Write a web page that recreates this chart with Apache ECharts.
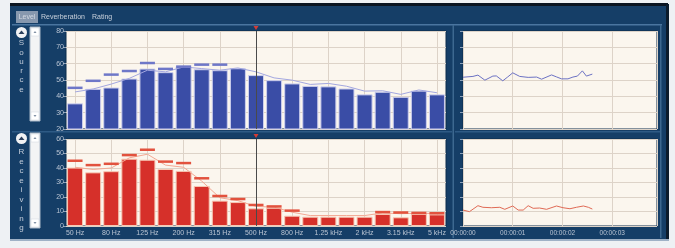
<!DOCTYPE html>
<html>
<head>
<meta charset="utf-8">
<script src="https://cdn.jsdelivr.net/npm/echarts@6/dist/echarts.min.js"></script>
<style>
  html, body { margin: 0; padding: 0; background: #eef1f4; }
  #levelChart { width: 675px; height: 248px; }
</style>
</head>
<body>
<div id="levelChart"></div>
<script>
  // 1/3 octave bands
  var bands = ['50 Hz', '63 Hz', '80 Hz', '100 Hz', '125 Hz', '160 Hz', '200 Hz', '250 Hz', '315 Hz', '400 Hz',
    '500 Hz', '630 Hz', '800 Hz', '1 kHz', '1.25 kHz', '1.6 kHz', '2 kHz', '2.5 kHz', '3.15 kHz', '4 kHz', '5 kHz'];

  // source room (dB)
  var sourceLevel = [35.7, 44.6, 45.4, 50.9, 57, 54.8, 58.4, 56.6, 56, 57.2, 53, 49.9, 47.9, 46.4, 46.1, 44.8, 41.2, 42.8, 39.7, 43.5, 41.2];
  var sourceMax = [45.2, 49.5, 53.3, 55.5, 60.4, 56.8, 58.2, 59.4, 59.4, null, null, null, null, null, null, null, null, null, null, null, null];
  var sourceAvg = [42.7, 44.5, 47.5, 51, 56, 55, 58, 57, 56, 57.4, 55, 51.3, 49.9, 47.3, 47.9, 46.2, 43.2, 43.4, 41.2, 43.9, 42.2];

  // receiving room (dB)
  var recvLevel = [40.3, 37, 37.8, 46.4, 45.7, 39.3, 38, 27.6, 17.5, 16.5, 12.2, 12.6, 7.1, 6.4, 6.4, 6.4, 6.4, 8.3, 6, 8.3, 8];
  var recvMax = [45, 42, 42.9, 48.9, 52.6, 44.4, 43.4, 32.9, 20.7, 18.6, 14.5, 13.5, 10.6, null, null, null, null, 9.6, 9.3, 9, 8.8];
  var recvAvg = [40.5, 39, 40, 47, 49.5, 42, 40.5, 31, 19.5, 17.5, 13.5, 13, 9.5, 7.2, 7.2, 7.2, 7.2, 9, 8.5, 8.8, 8.6];

  // level over time (s, dB)
  var sourceTimeSec = [0, 0.2, 0.3, 0.44, 0.6, 0.67, 0.8, 0.9, 1.0, 1.14, 1.31, 1.48, 1.58, 1.78, 1.88, 1.98, 2.11, 2.21, 2.3, 2.4, 2.48, 2.6];
  var sourceTime = [51.7, 52.2, 53, 49.9, 52.4, 52.5, 49.5, 51.9, 54.4, 52.2, 51.6, 51.8, 50.5, 53.1, 51.9, 50.7, 50.7, 51.8, 52.4, 55.6, 52.4, 53.6];
  var recvTimeSec = [0, 0.13, 0.3, 0.4, 0.57, 0.74, 0.84, 1.0, 1.11, 1.21, 1.31, 1.41, 1.54, 1.68, 1.88, 2.01, 2.15, 2.28, 2.42, 2.52, 2.6];
  var recvTime = [11, 9.9, 14, 12.9, 12.6, 12.9, 11.5, 13.8, 11, 11, 14, 12.2, 12.4, 11.5, 13.8, 12.6, 11.9, 12.9, 13.8, 12.9, 11.7];

  var timeTicks = ['00:00:00', '00:00:01', '00:00:02', '00:00:03'];
  var cursorBand = '500 Hz';

  var chart = echarts.init(document.getElementById('levelChart'));

  var labelColor = '#b9c4d3';
  var gridLine = '#ddd3c8';
  var font = 'Liberation Sans';

  function pairs(xs, ys) {
    return xs.map(function (x, i) { return [x, ys[i]]; });
  }

  function bandAxis(idx, showLabels) {
    return {
      type: 'category', gridIndex: idx, data: bands,
      axisLine: { show: false },
      axisTick: { show: false },
      axisLabel: { show: showLabels, interval: 1, color: labelColor, fontSize: 7, fontFamily: font, margin: 4 },
      splitLine: { show: true, interval: 1, alignWithLabel: true, lineStyle: { color: gridLine, width: 1 } }
    };
  }

  function levelAxis(idx, min, max, showLabels) {
    return {
      type: 'value', gridIndex: idx, min: min, max: max, interval: 10,
      axisLine: { show: false },
      axisTick: { show: true, length: 3, lineStyle: { color: '#8ea2ba' } },
      axisLabel: { show: showLabels, color: labelColor, fontSize: 7, fontFamily: font, margin: 2 },
      splitLine: { lineStyle: { color: gridLine, width: 1 } }
    };
  }

  function timeAxis(idx, showLabels) {
    return {
      type: 'value', gridIndex: idx, min: 0, max: 3.9, interval: 1,
      axisLine: { show: false },
      axisTick: { show: false },
      axisLabel: {
        show: showLabels, color: labelColor, fontSize: 6.5, fontFamily: font, margin: 4, showMaxLabel: false,
        formatter: function (v) { return timeTicks[v] || ''; }
      },
      splitLine: { lineStyle: { color: gridLine, width: 1 } }
    };
  }

  var gridStyle = { show: true, backgroundColor: '#fbf6ee', borderColor: '#0c2c4c', borderWidth: 1 };

  var cursorLine = {
    silent: true, symbol: ['none', 'none'], label: { show: false },
    lineStyle: { color: '#4a4a4a', width: 1, type: 'solid' },
    data: [{ xAxis: cursorBand }]
  };

  function cursorMark(top) {
    return {
      silent: true, symbol: 'triangle', symbolSize: [5, 4], symbolRotate: 180, symbolOffset: [0, -3],
      label: { show: false }, itemStyle: { color: '#d23b35' },
      data: [{ coord: [cursorBand, top] }]
    };
  }

  var sideText = { fill: '#c3ccd9', fontSize: 8, fontFamily: font, align: 'center', verticalAlign: 'middle' };
  var graphics = [
    { type: 'rect', z: -100, shape: { x: 10, y: 4, width: 658, height: 236 }, style: { fill: '#153e67' } },
    { type: 'rect', z: -99, shape: { x: 10, y: 3, width: 658, height: 3 }, style: { fill: '#0a1421' } },
    { type: 'rect', z: -99, shape: { x: 666, y: 4, width: 3, height: 236 }, style: { fill: '#0b1b2c' } },
    { type: 'rect', z: -99, shape: { x: 10, y: 239, width: 659, height: 2 }, style: { fill: '#9fb1c6' } },
    { type: 'rect', z: -99, shape: { x: 12, y: 24, width: 650, height: 1.5 }, style: { fill: '#4a759f' } },
    { type: 'rect', z: -99, shape: { x: 12, y: 131, width: 440, height: 1.5 }, style: { fill: '#2e5a85' } },
    { type: 'rect', z: -99, shape: { x: 455, y: 131, width: 205, height: 1.5 }, style: { fill: '#2e5a85' } },
    { type: 'rect', z: -99, shape: { x: 452.5, y: 25, width: 1.5, height: 213 }, style: { fill: '#3d6890' } },
    { type: 'rect', z: -99, shape: { x: 660, y: 25, width: 1.5, height: 213 }, style: { fill: '#3d6890' } },
    { type: 'rect', shape: { x: 16, y: 11, width: 22, height: 12 }, style: { fill: '#8798ae' } },
    { type: 'text', x: 27, y: 17, style: { text: 'Level', fill: '#d3d9e2', fontSize: 7, fontFamily: font, align: 'center', verticalAlign: 'middle' } },
    { type: 'text', x: 41, y: 17, style: { text: 'Reverberation', fill: '#c9d1dc', fontSize: 7, fontFamily: font, verticalAlign: 'middle' } },
    { type: 'text', x: 92, y: 17, style: { text: 'Rating', fill: '#c9d1dc', fontSize: 7, fontFamily: font, verticalAlign: 'middle' } }
  ];

  function sidePanel(top, bottom, word, letterTop, step) {
    graphics.push(
      { type: 'circle', shape: { cx: 21.5, cy: top + 5.5, r: 5.5 }, style: { fill: '#f1f2f4' } },
      { type: 'polygon', shape: { points: [[18.5, top + 7], [24.5, top + 7], [21.5, top + 3.5]] }, style: { fill: '#2b3f5c' } },
      { type: 'rect', shape: { x: 30, y: top, width: 10, height: bottom - top }, style: { fill: '#f3f4f5', stroke: '#a9b7c7', lineWidth: 1 } },
      { type: 'rect', shape: { x: 31, y: top + 1, width: 8, height: 8 }, style: { fill: '#ffffff', stroke: '#cfd5dc', lineWidth: 0.5 } },
      { type: 'rect', shape: { x: 31, y: bottom - 9, width: 8, height: 8 }, style: { fill: '#ffffff', stroke: '#cfd5dc', lineWidth: 0.5 } },
      { type: 'polygon', shape: { points: [[33.5, top + 6], [36.5, top + 6], [35, top + 4]] }, style: { fill: '#8090a4' } },
      { type: 'polygon', shape: { points: [[33.5, bottom - 6], [36.5, bottom - 6], [35, bottom - 4]] }, style: { fill: '#8090a4' } }
    );
    word.split('').forEach(function (ch, i) {
      graphics.push({ type: 'text', x: 21.5, y: letterTop + i * step, style: Object.assign({ text: ch }, sideText) });
    });
  }
  sidePanel(27, 121, 'Source', 43, 9.3);
  sidePanel(133, 228, 'Receiving', 152, 9.5);

  var option = {
    backgroundColor: '#eef1f4',
    animation: false,
    graphic: { elements: graphics },
    grid: [
      Object.assign({ left: 66, top: 31, width: 380, height: 98 }, gridStyle),
      Object.assign({ left: 66, top: 139, width: 380, height: 87 }, gridStyle),
      Object.assign({ left: 463, top: 31, width: 194, height: 98 }, gridStyle),
      Object.assign({ left: 463, top: 139, width: 194, height: 87 }, gridStyle)
    ],
    xAxis: [bandAxis(0, false), bandAxis(1, true), timeAxis(2, false), timeAxis(3, true)],
    yAxis: [levelAxis(0, 20, 80, true), levelAxis(1, 0, 60, true), levelAxis(2, 20, 80, false), levelAxis(3, 0, 60, false)],
    series: [
      {
        type: 'bar', xAxisIndex: 0, yAxisIndex: 0, data: sourceLevel, barWidth: 16,
        itemStyle: { color: '#3a4da6', borderColor: '#cdcfee', borderWidth: 1 },
        markLine: cursorLine, markPoint: cursorMark(80), z: 2
      },
      {
        type: 'line', xAxisIndex: 0, yAxisIndex: 0, data: sourceAvg, showSymbol: false,
        lineStyle: { color: '#a3a7e0', width: 1 }, z: 3
      },
      {
        type: 'scatter', xAxisIndex: 0, yAxisIndex: 0, data: sourceMax, symbol: 'rect', symbolSize: [15, 2.5],
        itemStyle: { color: '#6e77c8', opacity: 1 }, z: 4
      },
      {
        type: 'bar', xAxisIndex: 1, yAxisIndex: 1, data: recvLevel, barWidth: 16,
        itemStyle: { color: '#d6302a', borderColor: '#f7c8b4', borderWidth: 1 },
        markLine: cursorLine, markPoint: cursorMark(60), z: 2
      },
      {
        type: 'line', xAxisIndex: 1, yAxisIndex: 1, data: recvAvg, showSymbol: false,
        lineStyle: { color: '#f3a893', width: 1 }, z: 3
      },
      {
        type: 'scatter', xAxisIndex: 1, yAxisIndex: 1, data: recvMax, symbol: 'rect', symbolSize: [15, 2.5],
        itemStyle: { color: '#e2523e', opacity: 1 }, z: 4
      },
      {
        type: 'line', xAxisIndex: 2, yAxisIndex: 2, data: pairs(sourceTimeSec, sourceTime), showSymbol: false,
        lineStyle: { color: '#6c72c4', width: 1 }
      },
      {
        type: 'line', xAxisIndex: 3, yAxisIndex: 3, data: pairs(recvTimeSec, recvTime), showSymbol: false,
        lineStyle: { color: '#e06a55', width: 1 }
      }
    ]
  };

  chart.setOption(option);
</script>
</body>
</html>
